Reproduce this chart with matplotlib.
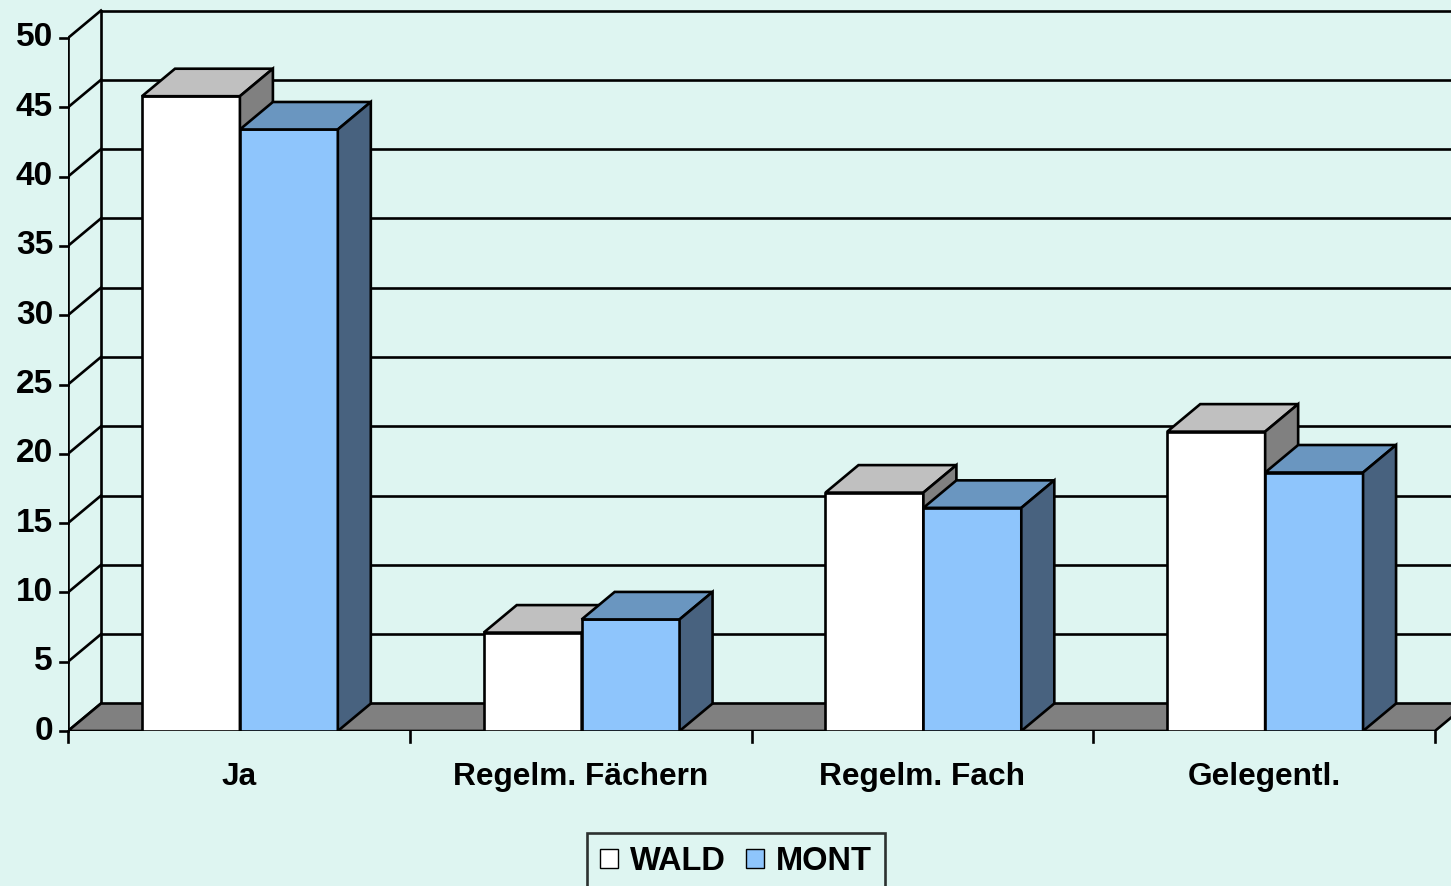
import numpy as np
import matplotlib.pyplot as plt
from matplotlib.patches import Polygon, Patch

categories = ["Ja", "Regelm. Fächern", "Regelm. Fach", "Gelegentl."]
wald = [45.8, 7.1, 17.2, 21.6]
mont = [43.4, 8.05, 16.1, 18.65]
yticks = list(range(0, 51, 5))

bg = "#DEF5F1"
wald_cols = ("#FFFFFF", "#C0C0C0", "#808080")   # front, top, side
mont_cols = ("#8EC5FC", "#6A96C0", "#48627F")

plt.rcParams['font.family'] = ['Liberation Sans', 'DejaVu Sans']
plt.rcParams['font.weight'] = 'bold'

W, H = 1451, 886
fig = plt.figure(figsize=(W / 100, H / 100), dpi=100, facecolor=bg)
# front axis: x=68 px, y=0 at 731 px, 13.86 px per unit, 341.75 px per category
ppx, ppy = 341.75, 13.86
ax = fig.add_axes([68 / W, (H - 731) / H, (W - 68) / W, 731 / H])
ax.set_xlim(0, (W - 68) / ppx)
ax.set_ylim(0, 731 / ppy)
ax.axis('off')
ax.set_facecolor(bg)

dx, dy = 33 / ppx, 27.5 / ppy   # depth offset
ymax = 50
xend = len(categories)
lw = 1.9

# back wall gridlines
for v in yticks:
    ax.plot([dx, 10], [v + dy, v + dy], color='black', lw=lw, clip_on=False, zorder=1)
ax.plot([dx, dx], [dy, ymax + dy], color='black', lw=lw, zorder=1)
# left wall: front axis + diagonals
ax.plot([0, 0], [0, ymax], color='black', lw=lw, zorder=1)
for v in yticks:
    ax.plot([0, dx], [v, v + dy], color='black', lw=lw, zorder=1)
    ax.plot([-8 / ppx, 0], [v, v], color='black', lw=lw, clip_on=False, zorder=1)
    ax.text(-15 / ppx, v, str(v), ha='right', va='center', fontsize=24, fontweight='bold')

# floor
floor = Polygon([(0, 0), (xend, 0), (xend + dx, dy), (10, dy), (dx, dy)],
                closed=True, facecolor="#808080", edgecolor='black', lw=lw, zorder=2)
ax.add_patch(floor)
ax.plot([0, xend], [0, 0], color='black', lw=lw, zorder=2)
for i in range(len(categories) + 1):
    ax.plot([i, i], [0, -11 / ppy], color='black', lw=lw, clip_on=False, zorder=2)

bw = 0.2865
x0 = 0.2165


def bar3d(x, h, cols, z):
    ax.bar(x, h, width=bw, align='edge', color=cols[0], edgecolor='black', lw=lw, zorder=z)
    top = [(x, h), (x + bw, h), (x + bw + dx, h + dy), (x + dx, h + dy)]
    side = [(x + bw, 0), (x + bw + dx, dy), (x + bw + dx, h + dy), (x + bw, h)]
    ax.add_patch(Polygon(top, closed=True, facecolor=cols[1], edgecolor='black', lw=lw, zorder=z))
    ax.add_patch(Polygon(side, closed=True, facecolor=cols[2], edgecolor='black', lw=lw, zorder=z))


for i, cat in enumerate(categories):
    bar3d(i + x0, wald[i], wald_cols, 3 + 2 * i)
    bar3d(i + x0 + bw, mont[i], mont_cols, 4 + 2 * i)
    ax.text(i + 0.5, -46 / ppy, cat, ha='center', va='center', fontsize=22.8, fontweight='bold')

handles = [Patch(facecolor=wald_cols[0], edgecolor='black', label='WALD'),
           Patch(facecolor=mont_cols[0], edgecolor='black', label='MONT')]
leg = fig.legend(handles=handles, loc='upper center', bbox_to_anchor=(736 / W, (H - 833) / H),
                 ncol=2, frameon=True, fancybox=False, prop={'weight': 'bold', 'size': 23.5},
                 handlelength=0.55, handleheight=0.55, handletextpad=0.37, columnspacing=0.6,
                 borderpad=0.4, borderaxespad=0)
leg.get_frame().set_edgecolor('black')
leg.get_frame().set_facecolor(bg)
leg.get_frame().set_linewidth(lw)

fig.savefig("out.png", dpi=100, facecolor=bg)
